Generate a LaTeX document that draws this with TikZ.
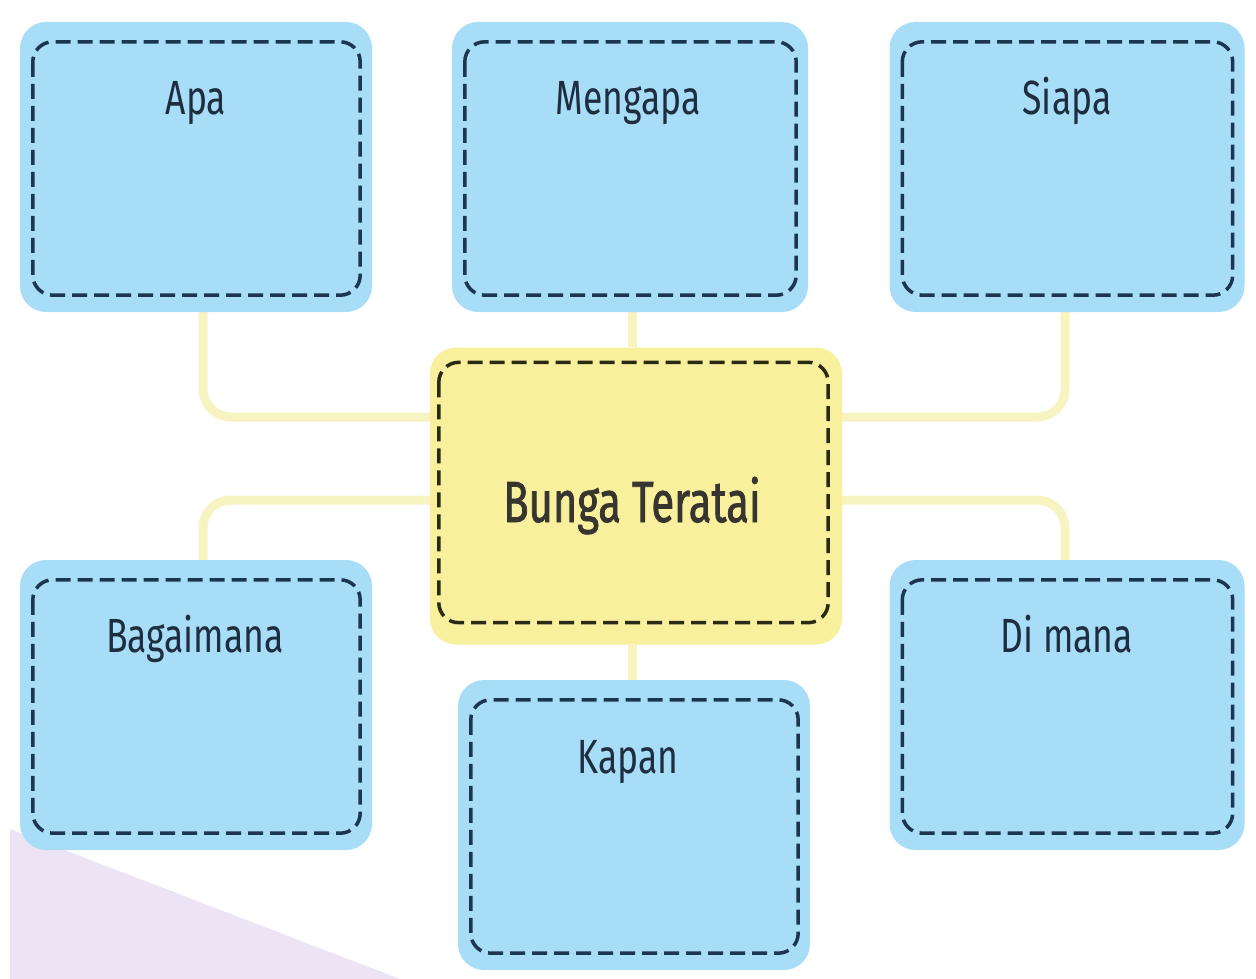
\documentclass[tikz,border=0pt]{standalone}
\usepackage{fontspec}
\setmainfont{Fira Sans}[FakeStretch=0.74]
\newfontfamily\ctrfont{Fira Sans}[FakeStretch=0.72, FakeBold=1.3]
\usetikzlibrary{calc,backgrounds}
\definecolor{boxblue}{HTML}{A8DDF8}
\definecolor{boxyellow}{HTML}{F8F09C}
\definecolor{dashblue}{HTML}{1C3550}
\definecolor{dashdark}{HTML}{2A2A14}
\definecolor{connyellow}{HTML}{F8F4C2}
\definecolor{txtblue}{HTML}{1E2D40}
\definecolor{purp}{HTML}{ECE4F5}
\tikzset{
  bluebox/.style={fill=boxblue, rounded corners=26pt, minimum width=352pt, minimum height=290pt, inner sep=0pt},
  ctrbox/.style={fill=boxyellow, rounded corners=26pt, minimum width=412pt, minimum height=297pt, inner sep=0pt},
  innerdash/.style={draw=dashblue, line width=3.5pt, dash pattern=on 15pt off 7pt, rounded corners=20pt},
  innerdashy/.style={draw=dashdark, line width=3.5pt, dash pattern=on 15pt off 7pt, rounded corners=20pt},
  conn/.style={draw=connyellow, line width=9pt, rounded corners=28pt},
  lbl/.style={anchor=base, text=txtblue, font=\fontsize{48}{50}\selectfont, inner sep=0pt},
  ctrlbl/.style={anchor=base, text=black!90!yellow, font=\ctrfont\fontsize{58}{60}\selectfont, inner sep=0pt}
}
\begin{document}
\begin{tikzpicture}[x=1pt, y=-1pt]
\useasboundingbox (0,0) rectangle (1256,979);

% boxes
\node[bluebox] (apa) at (196,167) {};
\node[bluebox, minimum width=356pt] (men) at (630,167) {};
\node[bluebox, minimum width=355pt] (sia) at (1067,167) {};
\node[bluebox] (bag) at (196,705) {};
\node[bluebox, minimum width=355pt] (dim) at (1067,705) {};
\node[bluebox] (kap) at (634,825) {};
\node[ctrbox] (ctr) at (636,496) {};

% background and connectors
\begin{scope}[on background layer]
\fill[white] (0,0) rectangle (1256,979);
\fill[purp] (10,829) -- (400,979) -- (10,979) -- cycle;
\draw[conn] ($(apa.south)+(7,0)$) |- ($(ctr.west)+(0,-79)$);
\draw[conn] ($(ctr.west)+(0,4)$) -| ($(bag.north)+(7,0)$);
\draw[conn] ($(sia.south)+(-2,0)$) |- ($(ctr.east)+(0,-79)$);
\draw[conn] ($(ctr.east)+(0,4)$) -| ($(dim.north)+(-2,0)$);
\draw[conn] ($(men.south)+(2,0)$) -- ($(ctr.north)+(-4,0)$);
\draw[conn] ($(ctr.south)+(-4,0)$) -- ($(kap.north)+(-2,0)$);
\end{scope}

% inner dashed frames
\foreach \b in {apa,men,sia,bag,dim,kap}{
  \draw[innerdash] ($(\b.north west)+(13,20)$) rectangle ($(\b.south east)+(-12,-17)$);
}
\draw[innerdashy] ($(ctr.north west)+(9,15)$) rectangle ($(ctr.south east)+(-14,-22)$);

% labels
\node[lbl] (tapa) at (196,115) {Apa};
\node[lbl] (tmen) at (628,115) {Mengapa};
\node[lbl] (tsia) at (1067,115) {Siapa};
\node[lbl] (tbag) at (195,652) {Bagaimana};
\node[lbl] (tdim) at (1067,652) {Di mana};
\node[lbl] (tkap) at (628,773) {Kapan};
\node[ctrlbl] (tctr) at (632,522) {Bunga Teratai};
\end{tikzpicture}
\end{document}
